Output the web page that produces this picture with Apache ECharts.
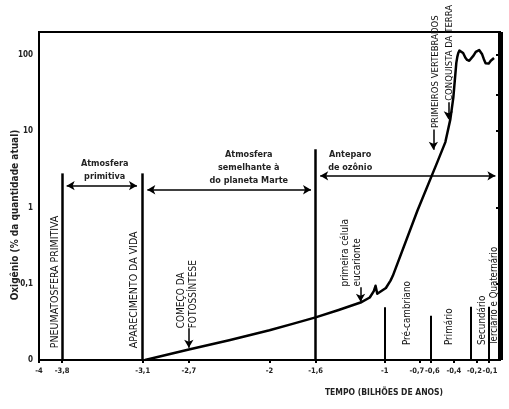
<!DOCTYPE html>
<html>
<head>
<meta charset="utf-8">
<script src="https://cdn.jsdelivr.net/npm/echarts@6/dist/echarts.min.js"></script>
<style>
  html, body { margin: 0; padding: 0; background: #fff; }
  #chart { width: 509px; height: 409px; }
</style>
</head>
<body>
<div id="chart"></div>
<script>
// axis ranges and tick labels
var yearMin = -4, yearMax = 0;
var levelMin = 0.01, levelMax = 200;
var yearTicks = [-4, -3.8, -3.1, -2.7, -2, -1.6, -1, -0.7, -0.6, -0.4, -0.2, -0.1];
var levelTicks = [0.01, 0.1, 1, 10, 100];
var levelAllTicks = [0.01, 0.1, 1, 10, 30, 100];

// oxygen curve (billions of years, % of present amount)
var oxygenYears = [-3.08, -2.7, -2.35, -2.0, -1.8, -1.6, -1.4, -1.21, -1.13, -1.095, -1.08, -1.065, -1.05,
  -0.99, -0.95, -0.93, -0.716, -0.543, -0.474, -0.431, -0.405, -0.379, -0.37, -0.362, -0.352, -0.345,
  -0.335, -0.32, -0.30, -0.285, -0.267, -0.25, -0.23, -0.21, -0.195, -0.181, -0.168, -0.155, -0.14,
  -0.125, -0.112, -0.098, -0.08, -0.065, -0.052];
var oxygenLevels = [0.01, 0.0137, 0.0182, 0.0245, 0.0298, 0.0362, 0.0453, 0.0567, 0.066, 0.08, 0.094, 0.074, 0.07,
  0.088, 0.11, 0.127, 0.914, 3.96, 7.2, 14.3, 27.6, 78.7, 95, 106, 114, 116,
  114, 106, 92, 86, 84, 88, 98, 110, 115, 116, 112, 102, 88,
  78, 75, 77, 84, 89, 91];

// tall event lines
var eventYears = [-3.8, -3.1, -1.6];
var eventTops = [2.8, 2.8, 5.8];

// short era lines
var eraYears = [-1, -0.6, -0.25, -0.1];
var eraTops = [0.049, 0.038, 0.05, 0.05];

// horizontal spans
var spanNames = ['Atmosfera\nprimitiva', 'Atmosfera\nsemelhante à\ndo planeta Marte', 'Anteparo\nde ozônio'];
var spanFrom = [-3.76, -3.06, -1.56];
var spanTo = [-3.15, -1.64, -0.04];
var spanLevels = [1.93, 1.71, 2.6];
var spanTextYears = [-3.43, -2.18, -1.30];
var spanTextLevels = [3.1, 3.3, 4.1];

// pointer arrows
var arrowYears = [-2.7, -1.21, -0.578, -0.448];
var arrowFrom = [0.026, 0.09, 10.5, 24];
var arrowTo = [0.0145, 0.058, 5.7, 14.3];

// vertical texts
var vTexts = ['PNEUMATOSFERA PRIMITIVA', 'APARECIMENTO DA VIDA', 'COMEÇO DA\nFOTOSSÍNTESE',
  'primeira célula\neucarionte', 'PRIMEIROS VERTEBRADOS', 'CONQUISTA DA TERRA',
  'Pré-cambriano', 'Primário', 'Secundário', 'Terciário e Quaternário'];
var vTextYears = [-3.86, -3.17, -2.71, -1.285, -0.562, -0.440, -0.80, -0.44, -0.155, -0.05];
var vTextLevels = [0.0143, 0.0143, 0.026, 0.092, 11, 25, 0.0157, 0.0157, 0.0157, 0.0157];
var vTextSizes = [10.5, 10.5, 10, 10, 9.5, 9.5, 9.8, 9.8, 9.8, 9.6];

var FONT = '"Liberation Sans Narrow", "DejaVu Sans Condensed", "Arial Narrow", sans-serif';

var chart = echarts.init(document.getElementById('chart'));

var lineSegs = [];
eventYears.forEach(function (x, i) {
  lineSegs.push([{ coord: [x, levelMin] }, { coord: [x, eventTops[i]] }]);
});
var eraSegs = [];
eraYears.forEach(function (x, i) {
  eraSegs.push([{ coord: [x, levelMin] }, { coord: [x, eraTops[i]] }]);
});
// heavy right-hand frame
var frameSegs = [[{ coord: [yearMax, levelMin] }, { coord: [yearMax, levelMax] }]];
var spanSegs = [];
spanNames.forEach(function (n, i) {
  spanSegs.push([{ coord: [spanFrom[i], spanLevels[i]] }, { coord: [spanTo[i], spanLevels[i]] }]);
});
var arrowSegs = [];
arrowYears.forEach(function (x, i) {
  arrowSegs.push([{ coord: [x, arrowFrom[i]] }, { coord: [x, arrowTo[i]] }]);
});

var textItems = [];
vTexts.forEach(function (t, i) {
  textItems.push([vTextYears[i], vTextLevels[i], t, 1, vTextSizes[i]]);
});
spanNames.forEach(function (t, i) {
  textItems.push([spanTextYears[i], spanTextLevels[i], t, 0, 9]);
});

var tickFmt = function (v) {
  return String(v).replace('.', ',');
};
// crowded labels are pushed apart a little
var pushLeft = [-0.7, -0.2], pushRight = [-0.6, -0.1];
var labelStyle = { fontSize: 7.5, fontWeight: 'bold', fontFamily: FONT, color: '#222' };

chart.setOption({
  animation: false,
  grid: {
    left: 39, right: 9, top: 32, bottom: 49,
    show: true, borderColor: '#000', borderWidth: 2
  },
  xAxis: {
    type: 'value', min: yearMin, max: yearMax,
    axisLine: { lineStyle: { color: '#000', width: 2 } },
    axisTick: { customValues: yearTicks, length: 3, lineStyle: { color: '#000', width: 2 } },
    axisLabel: {
      customValues: yearTicks, hideOverlap: false,
      color: '#222', fontSize: 7.5, fontWeight: 'bold', fontFamily: FONT, margin: 7,
      formatter: function (v) {
        var s = tickFmt(v);
        if (pushLeft.indexOf(v) >= 0) return '{l|' + s + '}';
        if (pushRight.indexOf(v) >= 0) return '{r|' + s + '}';
        return s;
      },
      rich: {
        l: Object.assign({ padding: [0, 5, 0, 0] }, labelStyle),
        r: Object.assign({ padding: [0, 0, 0, 3] }, labelStyle)
      }
    },
    splitLine: { show: false }
  },
  yAxis: {
    type: 'log', logBase: 10, min: levelMin, max: levelMax,
    axisLine: { show: true, lineStyle: { color: '#000', width: 2 } },
    axisTick: { show: true, customValues: levelAllTicks, length: 4, lineStyle: { color: '#000', width: 2 } },
    axisLabel: {
      color: '#222', fontSize: 8, fontWeight: 'bold', fontFamily: FONT, margin: 6,
      formatter: function (v) {
        if (Math.abs(v - 0.01) < 1e-9) return '0';
        if (levelTicks.indexOf(v) < 0) return '';
        return tickFmt(v);
      }
    },
    splitLine: { show: false }
  },
  graphic: [{
    type: 'text', x: 384, y: 393,
    style: { text: 'TEMPO (BILHÕES DE ANOS)', align: 'center', verticalAlign: 'middle',
      fill: '#222', font: 'bold 8.5px ' + FONT }
  }, {
    type: 'text', x: 15, y: 215, rotation: Math.PI / 2,
    style: { text: 'Oxigênio (% da quantidade atual)', align: 'center', verticalAlign: 'middle',
      fill: '#222', font: 'bold 10px ' + FONT }
  }],
  series: [{
    type: 'line',
    data: oxygenYears.map(function (x, i) { return [x, oxygenLevels[i]]; }),
    showSymbol: false, smooth: false,
    lineStyle: { color: '#000', width: 2.5, join: 'round' },
    markLine: {
      silent: true, symbol: ['none', 'none'], label: { show: false },
      lineStyle: { color: '#000', width: 2.5, type: 'solid' },
      data: lineSegs
    }
  }, {
    type: 'line', data: [],
    markLine: {
      silent: true, symbol: ['none', 'none'], label: { show: false },
      lineStyle: { color: '#000', width: 2, type: 'solid' },
      data: eraSegs
    }
  }, {
    type: 'line', data: [],
    markLine: {
      silent: true, symbol: ['none', 'none'], label: { show: false },
      lineStyle: { color: '#000', width: 5, type: 'solid' },
      data: frameSegs
    }
  }, {
    type: 'line', data: [],
    markLine: {
      silent: true, symbol: ['arrow', 'arrow'], symbolSize: [7, 8], label: { show: false },
      lineStyle: { color: '#000', width: 1.5, type: 'solid' },
      data: spanSegs
    }
  }, {
    type: 'line', data: [],
    markLine: {
      silent: true, symbol: ['none', 'arrow'], symbolSize: [7, 8], label: { show: false },
      lineStyle: { color: '#000', width: 1.5, type: 'solid' },
      data: arrowSegs
    }
  }, {
    type: 'custom', clip: false, silent: true,
    data: textItems,
    renderItem: function (params, api) {
      var p = api.coord([api.value(0), api.value(1)]);
      var item = textItems[params.dataIndex];
      var vertical = item[3] === 1;
      return {
        type: 'text', x: p[0], y: p[1],
        rotation: vertical ? Math.PI / 2 : 0,
        style: {
          text: item[2], fill: vertical ? '#111' : '#222',
          align: vertical ? 'left' : 'center', verticalAlign: 'middle',
          font: (vertical ? '' : 'bold ') + item[4] + 'px ' + FONT, lineHeight: vertical ? 12 : 13
        }
      };
    }
  }]
});
</script>
</body>
</html>
